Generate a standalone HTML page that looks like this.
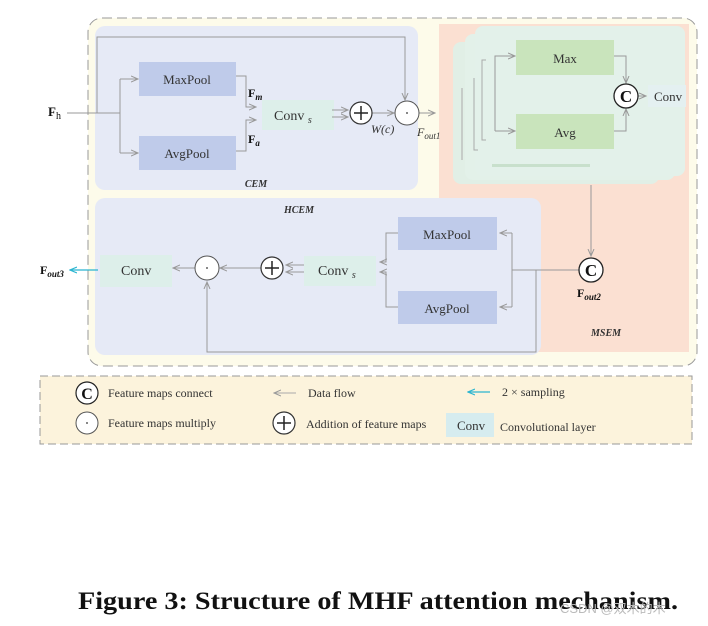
<!DOCTYPE html>
<html><head><meta charset="utf-8"><style>
body{margin:0;background:#fff;width:708px;height:626px;overflow:hidden}
svg{display:block}
text{font-family:"Liberation Serif",serif;fill:#333}
</style></head><body>
<svg width="708" height="626" viewBox="0 0 708 626">
<defs>
<marker id="a" markerWidth="8" markerHeight="8" refX="7" refY="4" orient="auto" markerUnits="userSpaceOnUse"><path d="M0,1 L7,4 L0,7" fill="none" stroke="#999" stroke-width="1"/></marker>
<marker id="c" markerWidth="8" markerHeight="8" refX="7" refY="4" orient="auto" markerUnits="userSpaceOnUse"><path d="M0,1 L7,4 L0,7" fill="none" stroke="#2bb5d0" stroke-width="1.2"/></marker>
</defs>
<rect x="88" y="18" width="609" height="348" rx="14" fill="#fdfbea" stroke="#999" stroke-dasharray="10,5"/>
<rect x="439" y="24" width="250" height="328" fill="#fbe0d2"/>
<rect x="95" y="26" width="323" height="164" rx="10" fill="#e6eaf6"/>
<rect x="95" y="198" width="446" height="157" rx="10" fill="#e6eaf6"/>
<rect x="453" y="42" width="206" height="142" rx="8" fill="#e1efe6"/>
<rect x="465" y="34" width="210" height="146" rx="8" fill="#e3f1e9"/>
<rect x="475" y="26" width="210" height="150" rx="8" fill="#e3f1ea"/>
<g stroke="#aaa" fill="none" stroke-width="1">
<path d="M462,88 V160"/><path d="M474,78 V150 h4"/><path d="M486,60 h-4 V140 h4"/>
</g>
<rect x="492" y="164" width="98" height="3" fill="#c8e0cc"/>
<rect x="516" y="40" width="98" height="35" fill="#c9e4bc"/>
<text x="565" y="63" text-anchor="middle" font-size="13">Max</text>
<rect x="516" y="114" width="98" height="35" fill="#c9e4bc"/>
<text x="565" y="137" text-anchor="middle" font-size="13">Avg</text>
<g stroke="#999" fill="none"><path d="M495,131 V56 h20" marker-end="url(#a)"/><path d="M495,131 h20" marker-end="url(#a)"/>
<path d="M614,56 h12 V83" marker-end="url(#a)"/><path d="M614,131 h12 V109" marker-end="url(#a)"/><path d="M638,96 h8" marker-end="url(#a)"/></g>
<circle cx="626" cy="96" r="12" fill="#fff" stroke="#222" stroke-width="1.3"/>
<text x="626" y="102" text-anchor="middle" font-size="17" font-weight="bold" style="fill:#111">C</text>
<rect x="648" y="85" width="38" height="22" fill="#e4f0f1"/>
<text x="654" y="101" font-size="13">Conv</text>
<rect x="139" y="62" width="97" height="34" fill="#bfcbea"/>
<text x="187" y="84" text-anchor="middle" font-size="13">MaxPool</text>
<rect x="139" y="136" width="97" height="34" fill="#bfcbea"/>
<text x="187" y="158" text-anchor="middle" font-size="13">AvgPool</text>
<rect x="262" y="100" width="72" height="30" fill="#dcefe9" opacity=".9"/>
<text x="274" y="120" font-size="14">Conv <tspan font-size="10" font-style="italic" dy="3">s</tspan></text>
<text x="48" y="116" font-size="13" font-weight="bold" style="fill:#111">F<tspan font-weight="normal" font-size="10" dy="3">h</tspan></text>
<text x="248" y="97" font-size="12" font-weight="bold" style="fill:#111">F<tspan font-style="italic" font-size="9" dy="3">m</tspan></text>
<text x="248" y="143" font-size="12" font-weight="bold" style="fill:#111">F<tspan font-style="italic" font-size="9" dy="3">a</tspan></text>
<g stroke="#999" fill="none">
<path d="M67,113 H120"/><path d="M120,79 V153"/><path d="M120,79 h18" marker-end="url(#a)"/><path d="M120,153 h18" marker-end="url(#a)"/>
<path d="M97,113 V37 H405 V100" marker-end="url(#a)"/>
<path d="M236,76 h10 V107 h10" marker-end="url(#a)"/><path d="M236,151 h10 V120 h10" marker-end="url(#a)"/>
<path d="M332,110 h16" marker-end="url(#a)"/><path d="M332,117 h16" marker-end="url(#a)"/>
<path d="M372,113 h22" marker-end="url(#a)"/><path d="M419,113 h16" marker-end="url(#a)"/>
</g>
<circle cx="361" cy="113" r="11" fill="#fff" stroke="#333" stroke-width="1.2"/>
<path d="M354,113h14M361,106v14" stroke="#222" stroke-width="1.5"/>
<circle cx="407" cy="113" r="12" fill="#fff" stroke="#555"/>
<circle cx="407" cy="113" r="0.9" fill="#333"/>
<text x="371" y="133" font-size="12" font-style="italic">W(c)</text>
<text x="417" y="136" font-size="12" font-style="italic">F<tspan font-size="9" dy="3">out1</tspan></text>
<text x="256" y="187" text-anchor="middle" font-size="10" font-weight="bold" font-style="italic">CEM</text>
<text x="299" y="213" text-anchor="middle" font-size="10" font-weight="bold" font-style="italic">HCEM</text>
<rect x="398" y="217" width="99" height="33" fill="#bfcbea"/>
<text x="447" y="239" text-anchor="middle" font-size="13">MaxPool</text>
<rect x="398" y="291" width="99" height="33" fill="#bfcbea"/>
<text x="447" y="313" text-anchor="middle" font-size="13">AvgPool</text>
<rect x="304" y="256" width="72" height="30" fill="#dcefe9" opacity=".9"/>
<text x="318" y="275" font-size="14">Conv <tspan font-size="10" font-style="italic" dy="3">s</tspan></text>
<rect x="100" y="255" width="72" height="32" fill="#dcefe9" opacity=".9"/>
<text x="121" y="275" font-size="14">Conv</text>
<g stroke="#999" fill="none">
<path d="M591,185 V256" marker-end="url(#a)"/>
<path d="M579,270 H512"/><path d="M512,233 V307"/><path d="M512,233 h-12" marker-end="url(#a)"/><path d="M512,307 h-12" marker-end="url(#a)"/>
<path d="M536,270 V352 H207 V282" marker-end="url(#a)"/>
<path d="M398,233 h-12 V262 h-6" marker-end="url(#a)"/><path d="M398,307 h-12 V272 h-6" marker-end="url(#a)"/>
<path d="M304,265 h-18" marker-end="url(#a)"/><path d="M304,272 h-18" marker-end="url(#a)"/>
<path d="M261,268 h-41" marker-end="url(#a)"/><path d="M195,268 h-22" marker-end="url(#a)"/>
</g>
<path d="M98,270 h-28" stroke="#2bb5d0" stroke-width="1.2" marker-end="url(#c)"/>
<text x="40" y="274" font-size="12" font-weight="bold" style="fill:#111">F<tspan font-style="italic" font-size="9" dy="3">out3</tspan></text>
<circle cx="272" cy="268" r="11" fill="#fff" stroke="#333" stroke-width="1.2"/>
<path d="M265,268h14M272,261v14" stroke="#222" stroke-width="1.5"/>
<circle cx="207" cy="268" r="12" fill="#fff" stroke="#555"/>
<circle cx="207" cy="268" r="0.9" fill="#333"/>
<circle cx="591" cy="270" r="12" fill="#fff" stroke="#222" stroke-width="1.3"/>
<text x="591" y="276" text-anchor="middle" font-size="17" font-weight="bold" style="fill:#111">C</text>
<text x="577" y="297" font-size="12" font-weight="bold" style="fill:#111">F<tspan font-style="italic" font-size="9" dy="3">out2</tspan></text>
<text x="606" y="336" text-anchor="middle" font-size="10" font-weight="bold" font-style="italic">MSEM</text>
<rect x="40" y="376" width="652" height="68" fill="#fcf3dc" stroke="#999" stroke-dasharray="8,4"/>
<circle cx="87" cy="393" r="11" fill="#fff" stroke="#222" stroke-width="1.2"/>
<text x="87" y="399" text-anchor="middle" font-size="16" font-weight="bold" style="fill:#111">C</text>
<text x="108" y="397" font-size="12">Feature maps connect</text>
<path d="M296,393 h-22" stroke="#aaa" marker-end="url(#a)"/>
<text x="308" y="397" font-size="12">Data flow</text>
<path d="M490,392 h-22" stroke="#2bb5d0" stroke-width="1.2" marker-end="url(#c)"/>
<text x="502" y="396" font-size="12">2 × sampling</text>
<circle cx="87" cy="423" r="11" fill="#fff" stroke="#555"/>
<circle cx="87" cy="423" r="0.9" fill="#333"/>
<text x="108" y="427" font-size="12">Feature maps multiply</text>
<circle cx="284" cy="423" r="11" fill="#fff" stroke="#333" stroke-width="1.2"/>
<path d="M277,423h14M284,416v14" stroke="#222" stroke-width="1.5"/>
<text x="306" y="428" font-size="12">Addition of feature maps</text>
<rect x="446" y="413" width="48" height="24" fill="#d6ecef"/>
<text x="457" y="430" font-size="13">Conv</text>
<text x="500" y="431" font-size="12">Convolutional layer</text>
<text x="78" y="609" font-size="25" font-weight="bold" style="fill:#111" textLength="600" lengthAdjust="spacingAndGlyphs">Figure 3: Structure of MHF attention mechanism.</text>
<text x="560" y="613" font-size="13" style="fill:#bbb;font-family:'Liberation Sans','Noto Sans CJK SC',sans-serif">CSDN @双木的木</text>
</svg>
</body></html>
